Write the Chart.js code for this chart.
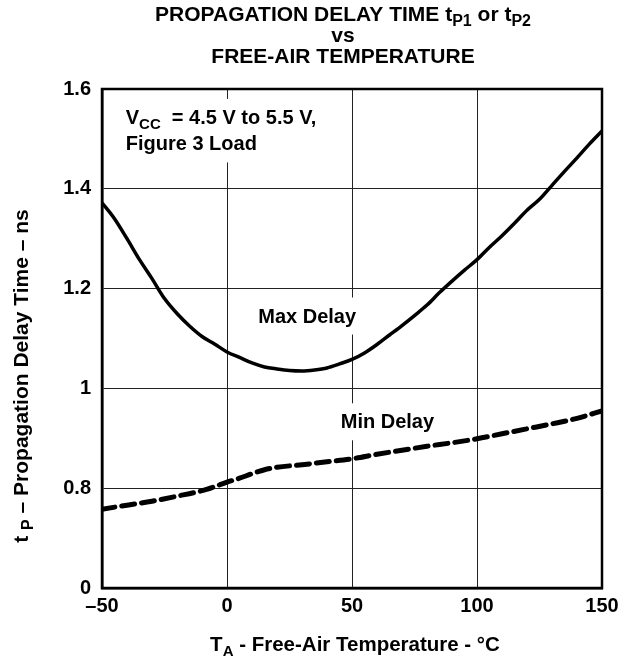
<!DOCTYPE html>
<html>
<head>
<meta charset="utf-8">
<script src="https://cdn.jsdelivr.net/npm/chart.js@4"></script>
<style>
  html, body { margin: 0; padding: 0; background: #fff; }
</style>
</head>
<body>
<canvas id="delayChart" width="626" height="662"></canvas>
<script>
// temperatures (°C) and delay values (ns)
const maxTemps = [-50, -45, -40, -35, -30, -25, -20, -15, -10, -5, 0, 5, 10, 15, 20, 25, 30, 35, 40, 45, 50, 55, 60, 65, 70, 75, 80, 85, 90, 95, 100, 105, 110, 115, 120, 125, 130, 135, 140, 145, 150];
const maxDelay = [1.372, 1.34, 1.30, 1.258, 1.22, 1.18, 1.15, 1.125, 1.104, 1.089, 1.073, 1.062, 1.051, 1.043, 1.039, 1.036, 1.035, 1.037, 1.041, 1.049, 1.058, 1.071, 1.088, 1.107, 1.126, 1.146, 1.167, 1.192, 1.215, 1.237, 1.258, 1.283, 1.306, 1.331, 1.357, 1.379, 1.407, 1.435, 1.462, 1.49, 1.516];

const minTemps = [-50, -40, -30, -20, -10, -5, 0, 5, 10, 15, 20, 30, 40, 50, 60, 70, 80, 90, 100, 110, 120, 130, 140, 150];
const minDelay = [0.758, 0.766, 0.774, 0.784, 0.795, 0.803, 0.812, 0.820, 0.829, 0.837, 0.842, 0.847, 0.853, 0.859, 0.868, 0.876, 0.884, 0.891, 0.899, 0.909, 0.919, 0.929, 0.940, 0.955];

const xTicks = [-50, 0, 50, 100, 150];
const yTicks = [0.6, 0.8, 1.0, 1.2, 1.4, 1.6];
// the axis is broken below 0.8, the lowest line is labelled 0
const yTickLabels = ["0", "0.8", "1", "1.2", "1.4", "1.6"];

const FONT = '"Liberation Sans", Arial, Helvetica, sans-serif';

// text pieces, sub = subscript
const titleLines = [
  [{ t: "PROPAGATION DELAY TIME t" }, { t: "P1", sub: true }, { t: " or t" }, { t: "P2", sub: true }],
  [{ t: "vs" }],
  [{ t: "FREE-AIR TEMPERATURE" }],
];
const xTitle = [{ t: "T" }, { t: "A", sub: true }, { t: " - Free-Air Temperature - °C" }];
const yTitle = [{ t: "t " }, { t: "P", sub: true }, { t: " – Propagation Delay Time – ns" }];

// notes inside the plot, anchored in data units (left edge, baseline)
const notes = [
  { parts: [{ t: "V" }, { t: "CC", sub: true }, { t: "  = 4.5 V to 5.5 V," }], x: -40.5, y: 1.53 },
  { parts: [{ t: "Figure 3 Load" }], x: -40.5, y: 1.477 },
  { parts: [{ t: "Max Delay" }], x: 12.5, y: 1.132 },
  { parts: [{ t: "Min Delay" }], x: 45.5, y: 0.92 },
];

function richWidth(ctx, parts, size) {
  let w = 0;
  parts.forEach((p) => {
    ctx.font = `bold ${p.sub ? Math.round(size * 0.74) : size}px ${FONT}`;
    w += ctx.measureText(p.t).width;
  });
  return w;
}

function drawRich(ctx, parts, x, y, size, align) {
  const total = richWidth(ctx, parts, size);
  let cx = align === "center" ? x - total / 2 : x;
  ctx.textAlign = "left";
  ctx.textBaseline = "alphabetic";
  ctx.fillStyle = "#000";
  parts.forEach((p) => {
    ctx.font = `bold ${p.sub ? Math.round(size * 0.74) : size}px ${FONT}`;
    ctx.fillText(p.t, cx, p.sub ? y + size * 0.25 : y);
    cx += ctx.measureText(p.t).width;
  });
  return total;
}

const textPlugin = {
  id: "textPlugin",
  beforeDatasetsDraw(chart) {
    const { ctx, scales } = chart;
    const size = 20;
    ctx.save();
    // white boxes first so they break the grid lines but not other text
    notes.forEach((n) => {
      const px = scales.x.getPixelForValue(n.x);
      const py = scales.y.getPixelForValue(n.y);
      const w = richWidth(ctx, n.parts, size);
      ctx.fillStyle = "#fff";
      ctx.fillRect(px - 6, py - size * 1.25, w + 12, size * 1.85);
    });
    notes.forEach((n) => {
      const px = scales.x.getPixelForValue(n.x);
      const py = scales.y.getPixelForValue(n.y);
      drawRich(ctx, n.parts, px, py, size, "left");
    });
    ctx.restore();
  },
  afterDraw(chart) {
    const { ctx, chartArea } = chart;
    ctx.save();
    // frame around plot
    ctx.strokeStyle = "#000";
    ctx.lineWidth = 2.5;
    ctx.strokeRect(chartArea.left, chartArea.top, chartArea.right - chartArea.left, chartArea.bottom - chartArea.top);

    // title
    titleLines.forEach((line, i) => {
      drawRich(ctx, line, 343, 21 + i * 21, 21, "center");
    });

    // x axis title
    drawRich(ctx, xTitle, 355, 651, 20.5, "center");

    // y axis title
    ctx.translate(28, 376);
    ctx.rotate(-Math.PI / 2);
    drawRich(ctx, yTitle, 0, 0, 21, "center");
    ctx.restore();
  },
};

const ctx = document.getElementById("delayChart").getContext("2d");
const delayChart = new Chart(ctx, {
  type: "line",
  data: {
    datasets: [
      {
        label: "Max Delay",
        data: maxTemps.map((t, i) => ({ x: t, y: maxDelay[i] })),
        borderColor: "#000",
        borderWidth: 3.5,
        pointRadius: 0,
        cubicInterpolationMode: "monotone",
        fill: false,
      },
      {
        label: "Min Delay",
        data: minTemps.map((t, i) => ({ x: t, y: minDelay[i] })),
        borderColor: "#000",
        borderWidth: 5,
        borderDash: [13, 7],
        borderCapStyle: "round",
        pointRadius: 0,
        cubicInterpolationMode: "monotone",
        fill: false,
      },
    ],
  },
  options: {
    responsive: false,
    animation: false,
    events: [],
    layout: { padding: { top: 89, right: 24, left: 0, bottom: 0 } },
    plugins: {
      legend: { display: false },
      tooltip: { enabled: false },
      title: { display: false },
    },
    scales: {
      x: {
        type: "linear",
        min: -50,
        max: 150,
        afterFit: (scale) => { scale.height = 74; },
        afterBuildTicks: (scale) => { scale.ticks = xTicks.map((v) => ({ value: v })); },
        ticks: {
          color: "#000",
          padding: 6,
          maxRotation: 0,
          font: { family: FONT, size: 20, weight: "bold" },
          callback: (v) => (v < 0 ? "–" + Math.abs(v) : String(v)),
        },
        grid: { color: "#222", lineWidth: 1, drawTicks: false },
        border: { color: "#000", width: 2.5 },
      },
      y: {
        min: 0.6,
        max: 1.6,
        afterFit: (scale) => { scale.width = 102; },
        afterBuildTicks: (scale) => { scale.ticks = yTicks.map((v) => ({ value: v })); },
        ticks: {
          color: "#000",
          padding: 11,
          font: { family: FONT, size: 20, weight: "bold" },
          callback: (v) => {
            const i = yTicks.findIndex((t) => Math.abs(t - v) < 1e-6);
            return i >= 0 ? yTickLabels[i] : "";
          },
        },
        grid: { color: "#222", lineWidth: 1, drawTicks: false },
        border: { color: "#000", width: 2.5 },
      },
    },
  },
  plugins: [textPlugin],
});
</script>
</body>
</html>
